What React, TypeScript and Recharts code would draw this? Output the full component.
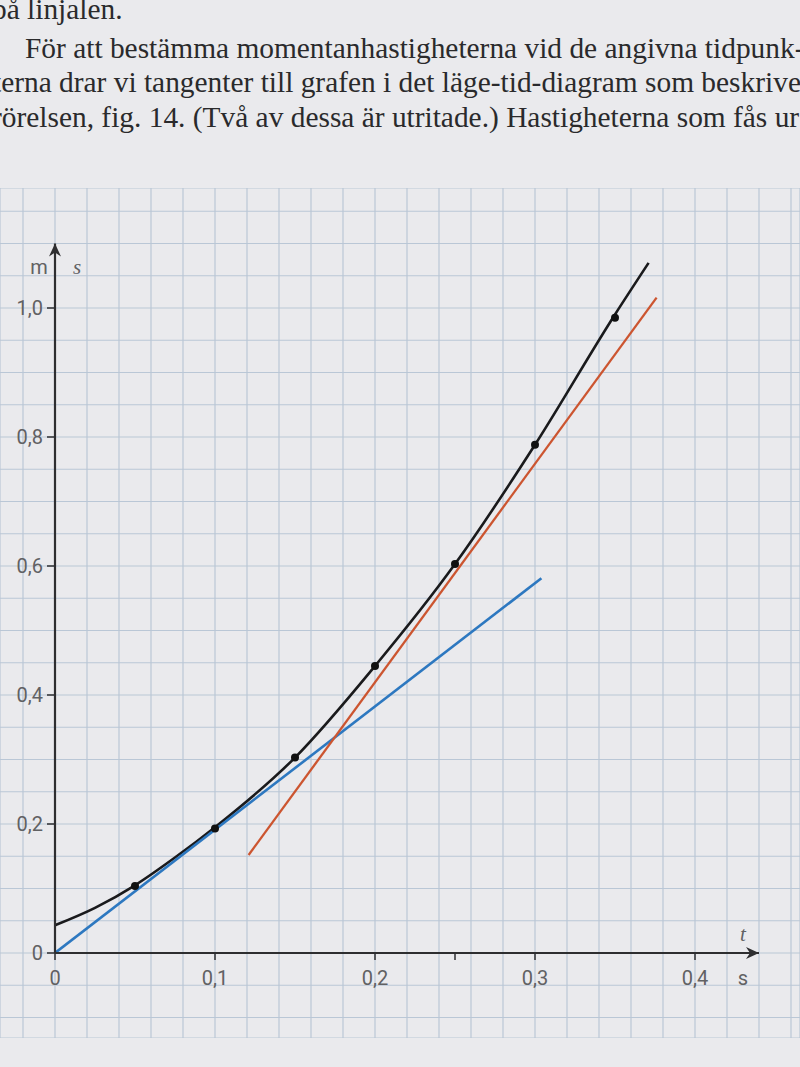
import { ComposedChart, LineChart, Line, Scatter, XAxis, YAxis, CartesianGrid, ReferenceDot } from 'recharts';

// black curve (t in s, s in m)
const curveT = [0, 0.025, 0.05, 0.075, 0.1, 0.15, 0.2, 0.25, 0.3, 0.35, 0.371];
const curveS = [0.043, 0.07, 0.105, 0.148, 0.195, 0.303, 0.445, 0.603, 0.788, 0.99, 1.07];

// measured points (dots)
const pointT = [0.05, 0.1, 0.15, 0.2, 0.25, 0.3, 0.35];
const pointS = [0.104, 0.193, 0.303, 0.445, 0.603, 0.788, 0.985];

// tangents
const blueT = [0, 0.304];
const blueS = [0, 0.581];
const redT = [0.121, 0.376];
const redS = [0.152, 1.016];

const xTicks = [0, 0.1, 0.2, 0.25, 0.3, 0.4];
const xTickLabels = ['0', '0,1', '0,2', '', '0,3', '0,4'];
const yTicks = [0, 0.2, 0.4, 0.6, 0.8, 1.0];
const yTickLabels = ['0', '0,2', '0,4', '0,6', '0,8', '1,0'];

const textLines = [
  'på linjalen.',
  'För att bestämma momentanhastigheterna vid de angivna tidpunk-',
  'terna drar vi tangenter till grafen i det läge-tid-diagram som beskriver',
  'rörelsen, fig. 14. (Två av dessa är utritade.) Hastigheterna som fås ur',
];

const zip = (ts: number[], ss: number[]) => ts.map((t, i) => ({ t, s: ss[i] }));
const curve = zip(curveT, curveS);
const points = zip(pointT, pointS);
const blue = zip(blueT, blueS);
const red = zip(redT, redS);

// paper grid: every 0.02 s and 0.05 m
const gridX: number[] = [];
for (let i = -1; i <= 23; i++) gridX.push(+(i * 0.02).toFixed(2));
const gridY: number[] = [];
for (let i = -2; i <= 23; i++) gridY.push(+(i * 0.05).toFixed(2));

const axisColor = '#2e2e30';
const labelColor = '#616163';
const sans = 'Roboto, "DejaVu Sans", sans-serif';

const xFmt = (v: number) => xTickLabels[xTicks.indexOf(v)] ?? '';
const yFmt = (v: number) => yTickLabels[yTicks.indexOf(v)] ?? '';

const ArrowRight = (p: any) => (
  <path d={`M${p.cx},${p.cy} L${p.cx - 13},${p.cy - 6} L${p.cx - 9},${p.cy} L${p.cx - 13},${p.cy + 6} Z`} fill={axisColor} />
);
const ArrowUp = (p: any) => (
  <path d={`M${p.cx},${p.cy} L${p.cx - 6},${p.cy + 13} L${p.cx},${p.cy + 9} L${p.cx + 6},${p.cy + 13} Z`} fill={axisColor} />
);
const textShape = (txt: string, dx: number, dy: number, italic: boolean) => (p: any) => (
  <text
    x={p.cx + dx}
    y={p.cy + dy}
    fill={labelColor}
    fontSize={italic ? 21 : 20}
    fontStyle={italic ? 'italic' : 'normal'}
    fontFamily={italic ? '"Liberation Serif", serif' : sans}
    textAnchor="middle"
  >
    {txt}
  </text>
);

export default function App() {
  return (
    <div style={{ position: 'absolute', left: 0, top: 0, width: 800, height: 1067, overflow: 'hidden', background: '#eaeaed' }}>
      <div
        style={{
          position: 'absolute', left: 0, top: 0, width: 800, height: 150, overflow: 'hidden',
          fontFamily: '"Liberation Serif", "DejaVu Serif", serif', fontSize: 29.4, lineHeight: '34px',
          color: '#2a2a2c', whiteSpace: 'nowrap',
        }}
      >
        <div style={{ position: 'absolute', left: -8, top: -8 }}>{textLines[0]}</div>
        <div style={{ position: 'absolute', left: 25, top: 31 }}>{textLines[1]}</div>
        <div style={{ position: 'absolute', left: -7, top: 65 }}>{textLines[2]}</div>
        <div style={{ position: 'absolute', left: -8, top: 100 }}>{textLines[3]}</div>
      </div>

      <div style={{ position: 'absolute', left: 0, top: 188 }}>
        <LineChart width={800} height={850} margin={{ top: 0, right: 0, bottom: 0, left: 0 }}>
          <XAxis type="number" dataKey="t" hide domain={[-0.034375, 0.465625]} ticks={gridX} interval={0} allowDataOverflow />
          <YAxis type="number" hide domain={[-0.13178, 1.18605]} ticks={gridY} interval={0} allowDataOverflow />
          <CartesianGrid stroke="#bac7d6" strokeWidth={1.2} />
        </LineChart>
      </div>

      <div style={{ position: 'absolute', left: 0, top: 0 }}>
        <ComposedChart width={800} height={1067} margin={{ top: 243.5, right: 41, bottom: 74, left: 0 }}>
          <XAxis
            type="number"
            dataKey="t"
            domain={[0, 0.44]}
            ticks={xTicks}
            interval={0}
            tickFormatter={xFmt}
            allowDataOverflow
            height={40}
            axisLine={{ stroke: axisColor, strokeWidth: 2.2 }}
            tickLine={{ stroke: axisColor, strokeWidth: 1.5 }}
            tickSize={7}
            tickMargin={11}
            tick={{ fill: labelColor, fontSize: 20, fontFamily: sans }}
          />
          <YAxis
            type="number"
            dataKey="s"
            domain={[0, 1.1]}
            ticks={yTicks}
            interval={0}
            tickFormatter={yFmt}
            allowDataOverflow
            width={55}
            axisLine={{ stroke: axisColor, strokeWidth: 2.2 }}
            tickLine={{ stroke: axisColor, strokeWidth: 1.5 }}
            tickSize={8}
            tickMargin={4}
            tick={{ fill: labelColor, fontSize: 20, fontFamily: sans }}
          />
          <Line data={curve} dataKey="s" type="monotone" stroke="#1a1a1c" strokeWidth={2.6} dot={false} isAnimationActive={false} />
          <Line data={blue} dataKey="s" type="linear" stroke="#2d78c0" strokeWidth={2.6} dot={false} isAnimationActive={false} />
          <Line data={red} dataKey="s" type="linear" stroke="#cc5530" strokeWidth={2.3} dot={false} isAnimationActive={false} />
          <Scatter
            data={points}
            dataKey="s"
            fill="#111"
            isAnimationActive={false}
            shape={(p: any) => <circle cx={p.cx} cy={p.cy} r={4} fill="#111" />}
          />
          <ReferenceDot x={0.44} y={0} r={0} ifOverflow="visible" shape={ArrowRight} />
          <ReferenceDot x={0} y={1.1} r={0} ifOverflow="visible" shape={ArrowUp} />
          <ReferenceDot x={0} y={1.062} r={0} ifOverflow="visible" shape={textShape('m', -16, 6, false)} />
          <ReferenceDot x={0} y={1.062} r={0} ifOverflow="visible" shape={textShape('s', 22, 6, true)} />
          <ReferenceDot x={0.43} y={0} r={0} ifOverflow="visible" shape={textShape('t', 0, -12, true)} />
          <ReferenceDot x={0.43} y={0} r={0} ifOverflow="visible" shape={textShape('s', 0, 32, false)} />
        </ComposedChart>
      </div>
    </div>
  );
}
